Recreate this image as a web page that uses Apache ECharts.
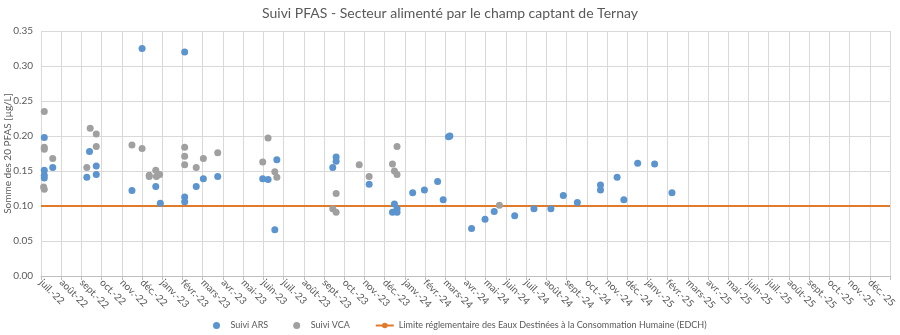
<!DOCTYPE html>
<html>
<head>
<meta charset="utf-8">
<script src="https://cdn.jsdelivr.net/npm/echarts@6/dist/echarts.min.js"></script>
<style>
html,body{margin:0;padding:0;background:#fff;}
#chart{width:900px;height:335px;}
</style>
</head>
<body>
<div id="chart"></div>
<script>
const monthLabels = ['juil.-22','août-22','sept.-22','oct.-22','nov.-22','déc.-22','janv.-23','févr.-23','mars-23','avr.-23','mai-23','juin-23','juil.-23','août-23','sept.-23','oct.-23','nov.-23','déc.-23','janv.-24','févr.-24','mars-24','avr.-24','mai-24','juin-24','juil.-24','août-24','sept.-24','oct.-24','nov.-24','déc.-24','janv.-25','févr.-25','mars-25','avr.-25','mai-25','juin-25','juil.-25','août-25','sept.-25','oct.-25','nov.-25','déc.-25'];

const arsDates = ['2022-07-06','2022-07-06','2022-07-06','2022-07-06','2022-07-19','2022-09-13','2022-09-09','2022-09-23','2022-09-23','2022-11-16','2022-12-01','2022-12-22','2022-12-29','2023-02-04','2023-02-04','2023-02-04','2023-02-20','2023-03-02','2023-03-24','2023-05-31','2023-06-08','2023-06-21','2023-06-18','2023-09-19','2023-09-19','2023-09-14','2023-11-08','2023-12-16','2023-12-13','2023-12-20','2023-12-20','2024-01-13','2024-01-31','2024-02-19','2024-02-27','2024-03-06','2024-03-08','2024-04-10','2024-04-30','2024-05-14','2024-06-14','2024-07-13','2024-08-08','2024-08-27','2024-09-17','2024-10-22','2024-10-22','2024-11-16','2024-11-26','2024-12-17','2025-01-12','2025-02-07'];
const arsValues = [0.198,0.151,0.144,0.140,0.155,0.178,0.141,0.157,0.145,0.122,0.325,0.128,0.104,0.320,0.113,0.106,0.128,0.139,0.142,0.139,0.138,0.166,0.066,0.170,0.164,0.155,0.131,0.103,0.091,0.091,0.096,0.119,0.123,0.135,0.109,0.199,0.200,0.068,0.081,0.092,0.086,0.096,0.096,0.115,0.105,0.130,0.123,0.141,0.109,0.161,0.160,0.119];

const vcaDates = ['2022-07-06','2022-07-06','2022-07-06','2022-07-19','2022-07-05','2022-07-06','2022-09-14','2022-09-23','2022-09-23','2022-09-09','2022-11-16','2022-12-01','2022-12-12','2022-12-12','2022-12-22','2022-12-23','2022-12-28','2023-02-04','2023-02-04','2023-02-04','2023-02-20','2023-03-02','2023-03-24','2023-06-08','2023-05-31','2023-06-18','2023-06-21','2023-09-19','2023-09-14','2023-09-19','2023-10-24','2023-11-08','2023-12-20','2023-12-13','2023-12-16','2023-12-20','2024-05-22'];
const vcaValues = [0.235,0.184,0.181,0.168,0.127,0.124,0.211,0.203,0.185,0.155,0.187,0.182,0.144,0.142,0.151,0.142,0.145,0.184,0.171,0.159,0.155,0.168,0.176,0.197,0.163,0.149,0.141,0.118,0.096,0.091,0.159,0.142,0.185,0.160,0.150,0.145,0.101];

const limitValue = 0.10;

function monthPos(s) {
  const p = s.split('-').map(Number);
  const dim = new Date(p[0], p[1], 0).getDate();
  return (p[0] - 2022) * 12 + (p[1] - 7) + (p[2] - 1) / dim;
}
const arsData = arsDates.map((d, i) => [monthPos(d), arsValues[i]]);
const vcaData = vcaDates.map((d, i) => [monthPos(d), vcaValues[i]]);
const nMonths = monthLabels.length;
const limitData = [[0, limitValue], [nMonths, limitValue]];

const FONT = 'Lato';
const TXT = '#595959';
const chart = echarts.init(document.getElementById('chart'), null, {renderer: 'canvas'});
chart.setOption({
  animation: false,
  backgroundColor: '#ffffff',
  title: {
    text: 'Suivi PFAS - Secteur alimenté par le champ captant de Ternay',
    left: 'center', top: 1,
    textStyle: {fontFamily: FONT, fontSize: 14, fontWeight: 'normal', color: TXT}
  },
  grid: {left: 41, right: 10, top: 31, bottom: 59, containLabel: false, outerBoundsMode: 'none'},
  xAxis: {
    type: 'value', min: 0, max: nMonths, interval: 1,
    axisLine: {show: true, lineStyle: {color: '#BFBFBF', width: 1}},
    axisTick: {show: true, length: 4, lineStyle: {color: '#BFBFBF'}},
    splitLine: {show: true, lineStyle: {color: '#D9D9D9', width: 1}},
    axisLabel: {
      rotate: -45, margin: 5, fontFamily: FONT, fontSize: 10, color: TXT,
      showMinLabel: true, showMaxLabel: true,
      formatter: v => monthLabels[Math.round(v)] || ''
    }
  },
  yAxis: {
    type: 'value', min: 0, max: 0.35, interval: 0.05,
    name: 'Somme des 20 PFAS [µg/L]', nameLocation: 'middle', nameGap: 28,
    nameMoveOverlap: false,
    nameTextStyle: {fontFamily: FONT, fontSize: 10, color: TXT},
    axisLine: {show: false}, axisTick: {show: false},
    splitLine: {show: true, lineStyle: {color: '#D9D9D9', width: 1}},
    axisLabel: {margin: 8, fontFamily: FONT, fontSize: 10, color: TXT,
      formatter: v => v.toFixed(2)}
  },
  legend: {
    bottom: 0, left: 208, itemGap: 25, itemWidth: 18, itemHeight: 7,
    textStyle: {fontFamily: FONT, fontSize: 9, color: TXT},
    data: [
      {name: 'Suivi ARS', icon: 'circle'},
      {name: 'Suivi VCA', icon: 'circle'},
      {name: 'Limite réglementaire des Eaux Destinées à la Consommation Humaine (EDCH)'}
    ]
  },
  series: [
    {
      name: 'Limite réglementaire des Eaux Destinées à la Consommation Humaine (EDCH)',
      type: 'line', data: limitData, symbol: 'none', z: 1,
      lineStyle: {color: '#E07B2C', width: 2}, itemStyle: {color: '#E07B2C'}
    },
    {
      name: 'Suivi ARS', type: 'scatter', data: arsData, symbolSize: 7, z: 2,
      itemStyle: {color: '#5B94CF', opacity: 1}
    },
    {
      name: 'Suivi VCA', type: 'scatter', data: vcaData, symbolSize: 7, z: 3,
      itemStyle: {color: '#A0A0A0', opacity: 1}
    }
  ]
});
</script>
</body>
</html>
